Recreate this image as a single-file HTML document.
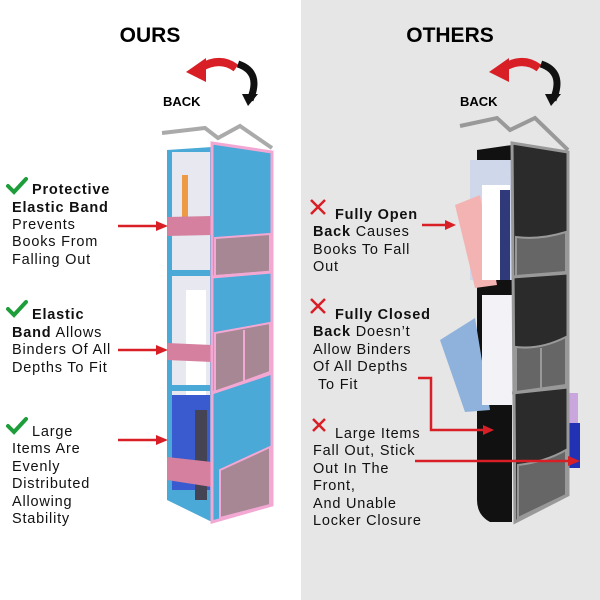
<!DOCTYPE html><html><head><style>body{margin:0}svg{display:block}text{font-family:"Liberation Sans",sans-serif}</style></head><body>
<svg width="600" height="600" viewBox="0 0 600 600" xmlns="http://www.w3.org/2000/svg">
<rect width="600" height="600" fill="#fff"/>
<rect x="301" width="299" height="600" fill="#e6e6e6"/>
<text x="150" y="42" font-size="21" font-weight="bold" text-anchor="middle">OURS</text>
<text x="450" y="42" font-size="21" font-weight="bold" text-anchor="middle">OTHERS</text>
<g><path d="M236 68 Q220 56 200 68" stroke="#d91f26" stroke-width="8" fill="none"/><polygon points="186,72 206,58 206,82" fill="#d91f26"/>
<path d="M238 64 Q262 72 250 100" stroke="#111" stroke-width="7" fill="none"/><polygon points="242,94 258,94 248,106" fill="#111"/></g>
<g transform="translate(303,0)"><path d="M236 68 Q220 56 200 68" stroke="#d91f26" stroke-width="8" fill="none"/><polygon points="186,72 206,58 206,82" fill="#d91f26"/>
<path d="M238 64 Q262 72 250 100" stroke="#111" stroke-width="7" fill="none"/><polygon points="242,94 258,94 248,106" fill="#111"/></g>
<text x="163" y="106" font-size="13" font-weight="bold">BACK</text>
<text x="460" y="106" font-size="13" font-weight="bold">BACK</text>
<!-- OURS organizer -->
<path d="M162 133 L205 128 L218 138 L240 126 L272 148" stroke="#aaa" stroke-width="4" fill="none"/>
<path d="M167 150 L212 147 L212 522 L167 500Z" fill="#4aa9d6"/>
<rect x="172" y="152" width="38" height="310" fill="#e8e8f0"/>
<rect x="182" y="175" width="6" height="60" fill="#e94" />
<rect x="186" y="290" width="20" height="150" fill="#fff"/><rect x="172" y="395" width="38" height="95" fill="#3a5bd0"/><rect x="195" y="410" width="12" height="90" fill="#445"/>
<rect x="172" y="270" width="40" height="6" fill="#4aa9d6"/><rect x="172" y="385" width="40" height="6" fill="#4aa9d6"/>
<path d="M167 217 L212 216 L212 235 L167 236Z" fill="#d5809f"/>
<path d="M167 343 L212 345 L212 362 L167 360Z" fill="#d5809f"/>
<path d="M167 457 L212 462 L212 487 L167 480Z" fill="#d5809f"/>
<path d="M212 143 L272 152 L272 505 L212 522Z" fill="#4aa9d6" stroke="#f3a8d4" stroke-width="3"/>
<path d="M215 238 L270 234 L270 272 L215 276Z" fill="#a88794" stroke="#f3a8d4" stroke-width="2"/>
<path d="M215 333 L270 323 L270 372 L215 392Z" fill="#a88794" stroke="#f3a8d4" stroke-width="2"/>
<line x1="244" y1="330" x2="244" y2="383" stroke="#f3a8d4" stroke-width="2"/>
<path d="M220 470 L270 447 L270 505 L220 518Z" fill="#a88794" stroke="#f3a8d4" stroke-width="2"/>
<line x1="212" y1="277" x2="272" y2="272" stroke="#f3a8d4" stroke-width="3"/>
<line x1="212" y1="393" x2="272" y2="373" stroke="#f3a8d4" stroke-width="3"/>
<!-- OTHERS organizer -->
<path d="M460 126 L497 118 L510 130 L535 118 L568 150" stroke="#999" stroke-width="4" fill="none"/>
<path d="M477 150 L512 145 L512 522 L490 522 Q477 515 477 500Z" fill="#111"/>
<rect x="470" y="160" width="42" height="120" fill="#cfd7ea"/>
<path d="M455 205 L480 195 L497 285 L475 288Z" fill="#f4b3b3"/>
<rect x="482" y="185" width="28" height="95" fill="#fff"/><rect x="500" y="190" width="10" height="90" fill="#303a7a"/>
<path d="M440 340 L475 318 L490 410 L465 412Z" fill="#8eb2db"/>
<rect x="482" y="295" width="30" height="110" fill="#f2f2f7"/>
<rect x="566" y="393" width="12" height="30" fill="#c9a6de"/><rect x="566" y="423" width="14" height="45" fill="#2232b5"/>
<path d="M512 143 L568 152 L568 495 L515 522Z" fill="#2b2b2b" stroke="#999" stroke-width="3"/>
<path d="M516 237 Q540 240 566 232 L566 272 L516 276Z" fill="#666" stroke="#999" stroke-width="2"/>
<path d="M516 347 Q540 350 566 337 L566 385 L516 392Z" fill="#666" stroke="#999" stroke-width="2"/>
<line x1="541" y1="348" x2="541" y2="388" stroke="#999" stroke-width="2"/>
<path d="M518 465 Q545 462 566 450 L566 495 L518 518Z" fill="#666" stroke="#999" stroke-width="2"/>
<line x1="512" y1="277" x2="568" y2="273" stroke="#999" stroke-width="3"/>
<line x1="512" y1="393" x2="568" y2="387" stroke="#999" stroke-width="3"/>
<g stroke="#d91f26" stroke-width="2.5" fill="none">
<line x1="118" y1="226" x2="158" y2="226"/><line x1="118" y1="350" x2="158" y2="350"/><line x1="118" y1="440" x2="158" y2="440"/>
<line x1="422" y1="225" x2="447" y2="225"/>
<polyline points="418,378 431,378 431,430 485,430"/>
<line x1="415" y1="461" x2="570" y2="461"/>
</g>
<g fill="#d91f26">
<polygon points="168,226 156,221 156,231"/><polygon points="168,350 156,345 156,355"/><polygon points="168,440 156,435 156,445"/>
<polygon points="456,225 445,220 445,230"/><polygon points="494,430 483,425 483,435"/><polygon points="580,461 568,456 568,466"/>
</g>
<g font-size="14.5" fill="#111" letter-spacing="0.8">
<text x="32" y="194" font-weight="bold">Protective</text>
<text x="12" y="212" font-weight="bold">Elastic Band</text>
<text x="12" y="229">Prevents</text><text x="12" y="246">Books From</text><text x="12" y="264">Falling Out</text>
<text x="32" y="319" font-weight="bold">Elastic</text>
<text x="12" y="337"><tspan font-weight="bold">Band</tspan> Allows</text>
<text x="12" y="354">Binders Of All</text><text x="12" y="372">Depths To Fit</text>
<text x="32" y="436">Large</text><text x="12" y="453">Items Are</text><text x="12" y="471">Evenly</text>
<text x="12" y="488">Distributed</text><text x="12" y="506">Allowing</text><text x="12" y="523">Stability</text>
</g>
<g stroke="#1e9e3a" stroke-width="4" fill="none" stroke-linecap="round">
<polyline points="8,186 14,192 26,179"/><polyline points="8,309 14,315 26,302"/><polyline points="8,426 14,432 26,419"/>
</g>
<g font-size="14.5" fill="#111" letter-spacing="0.8">
<text x="335" y="219" font-weight="bold">Fully Open</text>
<text x="313" y="236"><tspan font-weight="bold">Back</tspan> Causes</text>
<text x="313" y="254">Books To Fall</text><text x="313" y="271">Out</text>
<text x="335" y="319" font-weight="bold">Fully Closed</text>
<text x="313" y="336"><tspan font-weight="bold">Back</tspan> Doesn’t</text>
<text x="313" y="354">Allow Binders</text><text x="313" y="371">Of All Depths</text><text x="318" y="389">To Fit</text>
<text x="335" y="438">Large Items</text><text x="313" y="455">Fall Out, Stick</text><text x="313" y="473">Out In The</text>
<text x="313" y="490">Front,</text><text x="313" y="508">And Unable</text><text x="313" y="525">Locker Closure</text>
</g>
<g stroke="#d91f26" stroke-width="2.5">
<path d="M311 200 L325 214 M325 200 L311 214"/><path d="M311 299 L325 313 M325 299 L311 313"/><path d="M313 419 L325 431 M325 419 L313 431"/>
</g>
</svg></body></html>
